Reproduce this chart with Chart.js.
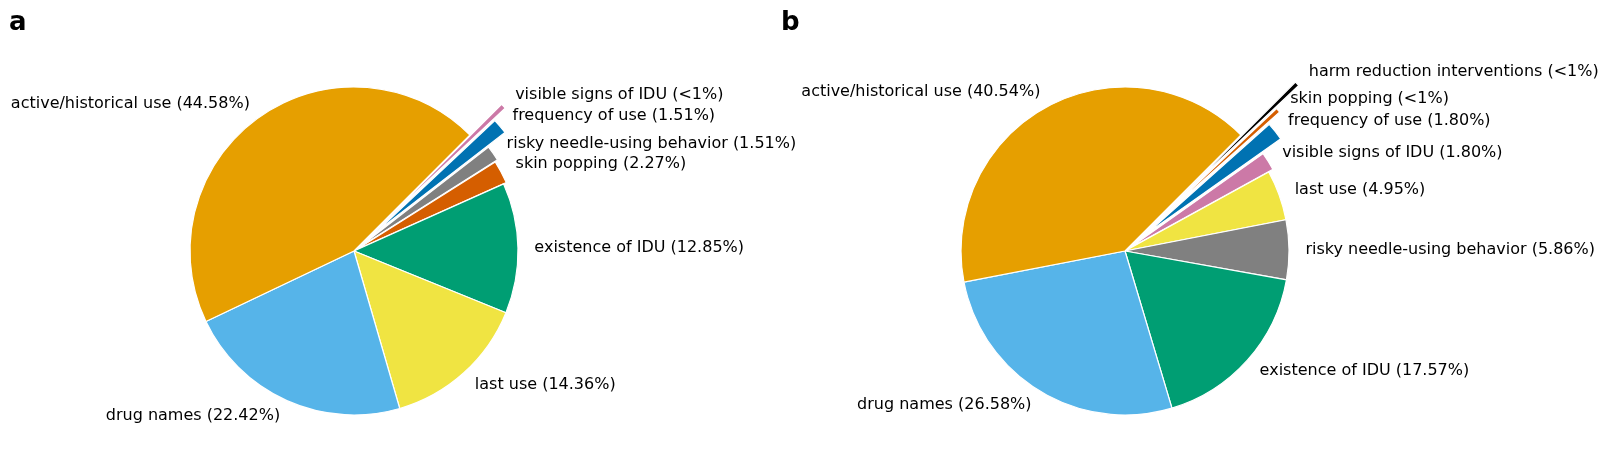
<!DOCTYPE html>
<html>
<head>
<meta charset="utf-8">
<script src="https://cdn.jsdelivr.net/npm/chart.js@4/dist/chart.umd.min.js"></script>
<style>
    html, body { margin: 0; padding: 0; background: #ffffff; }
    #wrap { position: relative; width: 1608px; height: 463px; overflow: hidden; }
    #wrap canvas { position: absolute; left: 0; top: 0; }
    .panel { position: absolute; font: bold 26px "DejaVu Sans", sans-serif; line-height: 26px; color: #000; }
</style>
</head>
<body>
<div id="wrap">
    <canvas id="chartA" width="1608" height="463"></canvas>
    <canvas id="chartB" width="1608" height="463"></canvas>
    <div class="panel" style="left:9px; top:8px;">a</div>
    <div class="panel" style="left:781px; top:8px;">b</div>
</div>
<script>
// Panel a
const labelsA = ['active/historical use', 'drug names', 'last use', 'existence of IDU',
    'skin popping', 'risky needle-using behavior', 'frequency of use', 'visible signs of IDU'];
const valuesA = [44.58, 22.42, 14.36, 12.85, 2.27, 1.51, 1.51, 0.50];
const pctTextA = ['44.58%', '22.42%', '14.36%', '12.85%', '2.27%', '1.51%', '1.51%', '<1%'];
const explodeA = [0, 0, 0, 0, 3, 6, 28, 44];

// Panel b
const labelsB = ['active/historical use', 'drug names', 'existence of IDU', 'risky needle-using behavior',
    'last use', 'visible signs of IDU', 'frequency of use', 'skin popping', 'harm reduction interventions'];
const valuesB = [40.54, 26.58, 17.57, 5.86, 4.95, 1.80, 1.80, 0.45, 0.45];
const pctTextB = ['40.54%', '26.58%', '17.57%', '5.86%', '4.95%', '1.80%', '1.80%', '<1%', '<1%'];
const explodeB = [0, 0, 0, 0, 0, 5, 28, 44, 76];

// same colour per category in both panels
const categoryColors = {
    'active/historical use': '#E69F00',
    'drug names': '#56B4E9',
    'existence of IDU': '#009E73',
    'last use': '#F0E442',
    'frequency of use': '#0072B2',
    'skin popping': '#D55E00',
    'visible signs of IDU': '#CC79A7',
    'risky needle-using behavior': '#808080',
    'harm reduction interventions': '#000000'
};

// Arc that is pulled out whole along its mid angle (like matplotlib's explode),
// instead of Chart.js' own offset which shrinks thin wedges away
class ExplodedArc extends Chart.ArcElement {
    draw(ctx) {
        const o = this.options;
        const p = this.getProps(['x', 'y', 'startAngle', 'endAngle', 'outerRadius']);
        if (p.endAngle - p.startAngle <= 0) return;
        const mid = (p.startAngle + p.endAngle) / 2;
        const off = o.offset || 0;
        const cx = p.x + Math.cos(mid) * off;
        const cy = p.y + Math.sin(mid) * off;
        ctx.save();
        ctx.beginPath();
        ctx.moveTo(cx, cy);
        ctx.arc(cx, cy, p.outerRadius, p.startAngle, p.endAngle);
        ctx.closePath();
        ctx.fillStyle = o.backgroundColor;
        ctx.fill();
        if (o.borderWidth) {
            ctx.lineWidth = o.borderWidth;
            ctx.strokeStyle = o.borderColor;
            ctx.stroke();
        }
        ctx.restore();
    }
}
ExplodedArc.id = 'explodedArc';

class ExplodedPie extends Chart.PieController {}
ExplodedPie.id = 'explodedPie';
ExplodedPie.defaults = { dataElementType: 'explodedArc' };

Chart.register(ExplodedArc, ExplodedPie);

// pie labels outside the wedges, like matplotlib (labeldistance 1.1)
const outerLabels = {
    id: 'outerLabels',
    afterDatasetsDraw(chart) {
        const ctx = chart.ctx;
        const meta = chart.getDatasetMeta(0);
        const names = chart.data.labels;
        ctx.save();
        ctx.font = '16px "DejaVu Sans", sans-serif';
        ctx.fillStyle = '#000000';
        ctx.textBaseline = 'middle';
        meta.data.forEach(function(arc, i) {
            const p = arc.getProps(['x', 'y', 'startAngle', 'endAngle', 'outerRadius'], true);
            const mid = (p.startAngle + p.endAngle) / 2;
            const off = arc.options.offset || 0;
            const d = off + p.outerRadius * 1.1;
            const tx = p.x + Math.cos(mid) * d;
            const ty = p.y + Math.sin(mid) * d;
            ctx.textAlign = Math.cos(mid) >= 0 ? 'left' : 'right';
            ctx.fillText(names[i], tx, ty);
        });
        ctx.restore();
    }
};

function makePie(canvasId, labels, values, pctText, explode, padding) {
    // matplotlib draws counterclockwise from 45 degrees; Chart.js goes clockwise,
    // so feed the series in reverse order
    const names = labels.map(function(l, i) { return l + ' (' + pctText[i] + ')'; }).reverse();
    const ctx = document.getElementById(canvasId).getContext('2d');
    return new Chart(ctx, {
        type: 'explodedPie',
        data: {
            labels: names,
            datasets: [{
                data: values.slice().reverse(),
                backgroundColor: labels.map(function(l) { return categoryColors[l]; }).reverse(),
                borderColor: '#ffffff',
                borderWidth: 1.2,
                offset: explode.slice().reverse()
            }]
        },
        options: {
            responsive: false,
            animation: false,
            rotation: 45,
            radius: 164,
            layout: { padding: padding },
            plugins: {
                legend: { display: false },
                tooltip: { enabled: false }
            },
            events: []
        },
        plugins: [outerLabels]
    });
}

let chartA, chartB;
document.addEventListener('DOMContentLoaded', function() {
    chartA = makePie('chartA', labelsA, valuesA, pctTextA, explodeA, { left: 0, right: 900, top: 39, bottom: 0 });
    chartB = makePie('chartB', labelsB, valuesB, pctTextB, explodeB, { left: 642, right: 0, top: 39, bottom: 0 });
});
</script>
</body>
</html>
